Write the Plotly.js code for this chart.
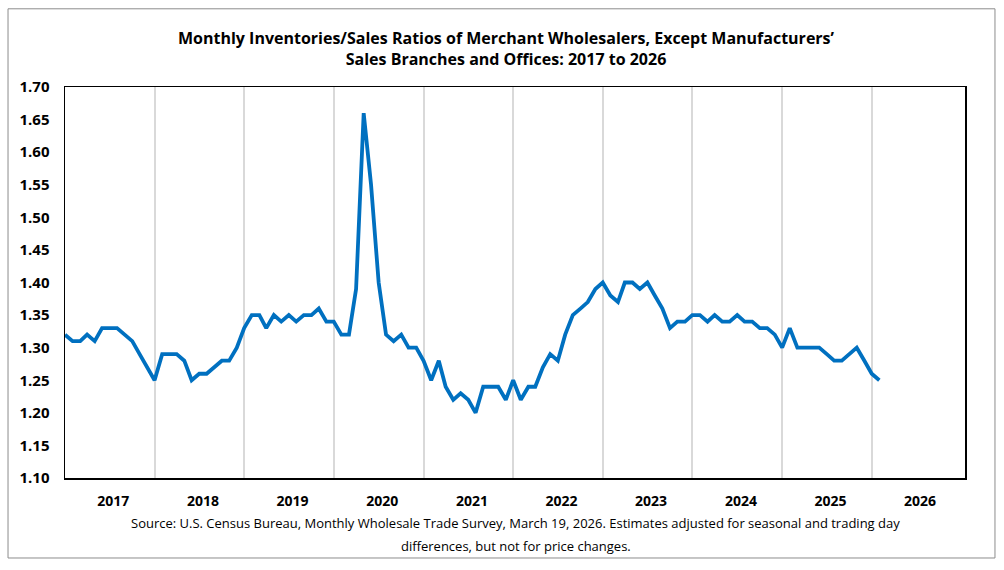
<!DOCTYPE html>
<html>
<head>
<meta charset="utf-8">
<script src="https://cdn.plot.ly/plotly-3.0.1.min.js"></script>
<style>
  html, body { margin: 0; padding: 0; background: #ffffff; }
  #chart { width: 1004px; height: 570px; }
</style>
</head>
<body>
<div id="chart"></div>
<script>
// Inventories/Sales ratios, monthly, first month Dec 2016, last Jan 2026
const startMonth = "2016-12";
const v2016 = [1.32];
const v2017 = [1.31, 1.31, 1.32, 1.31, 1.33, 1.33, 1.33, 1.32, 1.31, 1.29, 1.27, 1.25];
const v2018 = [1.29, 1.29, 1.29, 1.28, 1.25, 1.26, 1.26, 1.27, 1.28, 1.28, 1.30, 1.33];
const v2019 = [1.35, 1.35, 1.33, 1.35, 1.34, 1.35, 1.34, 1.35, 1.35, 1.36, 1.34, 1.34];
const v2020 = [1.32, 1.32, 1.39, 1.66, 1.55, 1.40, 1.32, 1.31, 1.32, 1.30, 1.30, 1.28];
const v2021 = [1.25, 1.28, 1.24, 1.22, 1.23, 1.22, 1.20, 1.24, 1.24, 1.24, 1.22, 1.25];
const v2022 = [1.22, 1.24, 1.24, 1.27, 1.29, 1.28, 1.32, 1.35, 1.36, 1.37, 1.39, 1.40];
const v2023 = [1.38, 1.37, 1.40, 1.40, 1.39, 1.40, 1.38, 1.36, 1.33, 1.34, 1.34, 1.35];
const v2024 = [1.35, 1.34, 1.35, 1.34, 1.34, 1.35, 1.34, 1.34, 1.33, 1.33, 1.32, 1.30];
const v2025 = [1.33, 1.30, 1.30, 1.30, 1.30, 1.29, 1.28, 1.28, 1.29, 1.30, 1.28, 1.26];
const v2026 = [1.25];

const yearLabels = ["2017","2018","2019","2020","2021","2022","2023","2024","2025","2026"];
const yearLabelDates = ["2017-06-16","2018-06-16","2019-06-16","2020-06-16","2021-06-16",
                        "2022-06-16","2023-06-16","2024-06-16","2025-06-16","2026-06-16"];
const gridDates = ["2017-12-01","2018-12-01","2019-12-01","2020-12-01","2021-12-01",
                   "2022-12-01","2023-12-01","2024-12-01","2025-12-01"];

const sourceLine1 = "Source: U.S. Census Bureau, Monthly Wholesale Trade Survey, March 19, 2026. Estimates adjusted for seasonal and trading day";
const sourceLine2 = "differences, but not for price changes.";

const ratios = [].concat(v2016, v2017, v2018, v2019, v2020, v2021, v2022, v2023, v2024, v2025, v2026);
const months = [];
{
  let y = parseInt(startMonth.slice(0,4),10), m = parseInt(startMonth.slice(5,7),10);
  for (let i = 0; i < ratios.length; i++) {
    months.push(y + "-" + String(m).padStart(2,"0") + "-01");
    m++; if (m > 12) { m = 1; y++; }
  }
}

const xRange = ["2016-12-01", "2026-12-16"];
const FONT = "'Open Sans', 'Noto Sans', sans-serif";

const traces = [
  {
    x: months, y: ratios, type: "scatter", mode: "lines",
    line: { color: "#0070C0", width: 3.8 },
    hoverinfo: "x+y", showlegend: false
  },
  {
    x: yearLabelDates, y: yearLabelDates.map(() => null), xaxis: "x2", yaxis: "y",
    type: "scatter", mode: "markers", hoverinfo: "skip", showlegend: false
  }
];

const srcFont = { family: FONT, size: 13, color: "#000000" };

const layout = {
  width: 1004, height: 570,
  margin: { l: 65, r: 39, t: 87, b: 92 },
  paper_bgcolor: "#ffffff", plot_bgcolor: "#ffffff",
  font: { family: FONT, color: "#000000" },
  title: {
    text: "Monthly Inventories/Sales Ratios of Merchant Wholesalers, Except Manufacturers’<br>Sales Branches and Offices: 2017 to 2026",
    font: { family: FONT, size: 16, weight: "bold", color: "#000000" },
    x: 0.49, xref: "paper", xanchor: "center",
    y: 0.922, yref: "container", yanchor: "top"
  },
  xaxis: {
    type: "date", range: xRange,
    tickvals: gridDates, ticktext: gridDates.map(() => ""),
    showgrid: true, gridcolor: "#D9D9D9", gridwidth: 2,
    ticks: "", showline: true, linecolor: "#000000", linewidth: 1.5, mirror: true,
    zeroline: false, fixedrange: true
  },
  xaxis2: {
    type: "date", range: xRange, overlaying: "x", anchor: "y", side: "bottom",
    tickvals: yearLabelDates, ticktext: yearLabels,
    showgrid: false, ticks: "", showline: false, zeroline: false,
    tickfont: { family: FONT, size: 14, weight: "bold", color: "#000000" },
    ticklabelstandoff: 13
  },
  yaxis: {
    range: [1.10, 1.70], dtick: 0.05, tick0: 1.10, tickformat: ".2f",
    showgrid: false, zeroline: false, ticks: "",
    showline: true, linecolor: "#000000", linewidth: 1.5, mirror: true,
    tickfont: { family: FONT, size: 15, weight: "bold", color: "#000000" },
    ticklabelstandoff: 11, fixedrange: true
  },
  annotations: [
    {
      text: sourceLine1,
      xref: "paper", yref: "paper", x: 0.501, y: -0.116, xanchor: "center", yanchor: "middle",
      showarrow: false, font: srcFont
    },
    {
      text: sourceLine2,
      xref: "paper", yref: "paper", x: 0.501, y: -0.174, xanchor: "center", yanchor: "middle",
      showarrow: false, font: srcFont
    }
  ],
  shapes: [
    {
      type: "rect", xref: "paper", yref: "paper",
      x0: -0.0633, x1: 1.0333, y0: -0.2046, y1: 1.2,
      line: { color: "#8C8C8C", width: 1 }, fillcolor: "rgba(0,0,0,0)", layer: "below"
    }
  ]
};

Plotly.newPlot("chart", traces, layout, { displayModeBar: false, staticPlot: true });
</script>
</body>
</html>
